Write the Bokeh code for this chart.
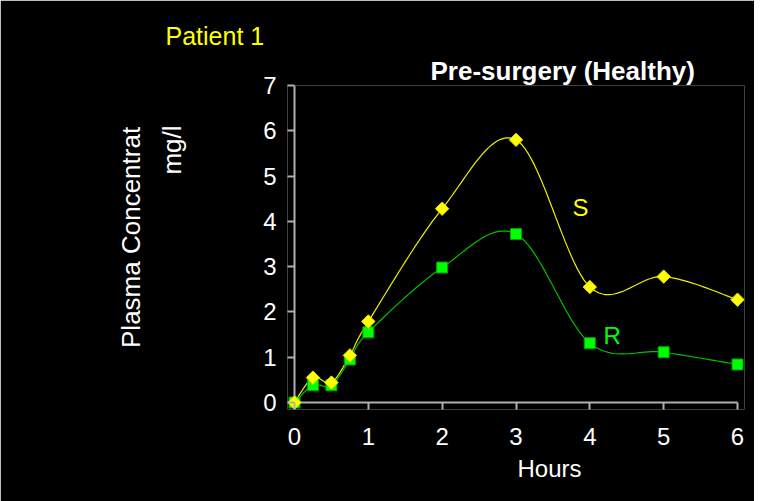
import numpy as np
from bokeh.plotting import figure
from bokeh.models import Range1d, Label, FixedTicker, Title
from bokeh.embed import file_html
from bokeh.resources import INLINE

hours = [0, 0.25, 0.5, 0.75, 1, 2, 3, 4, 5, 6]
s_values = [0.0, 0.55, 0.44, 1.04, 1.79, 4.28, 5.80, 2.55, 2.78, 2.27]
r_values = [0.0, 0.38, 0.38, 0.95, 1.55, 2.98, 3.72, 1.31, 1.11, 0.84]
x_ticks = [0, 1, 2, 3, 4, 5, 6]
y_ticks = [0, 1, 2, 3, 4, 5, 6, 7]

FONT = "Liberation Sans"
W, H = 754, 501
PAD = 7  # px between frame edge and the zero lines (tick length)


def smooth(xs, ys, n=24):
    # Catmull-Rom smoothing (like spreadsheet "smoothed line")
    P = np.column_stack([xs, ys]).astype(float)
    P = np.vstack([P[0], P, P[-1]])
    out = []
    for i in range(1, len(P) - 2):
        p0, p1, p2, p3 = P[i - 1], P[i], P[i + 1], P[i + 2]
        c1 = p1 + (p2 - p0) / 6.0
        c2 = p2 - (p3 - p1) / 6.0
        t = np.linspace(0, 1, n, endpoint=(i == len(P) - 3))[:, None]
        pts = ((1 - t) ** 3) * p1 + 3 * ((1 - t) ** 2) * t * c1 + 3 * (1 - t) * t ** 2 * c2 + t ** 3 * p2
        out.append(pts)
    a = np.vstack(out)
    return a[:, 0], a[:, 1]


# pixel positions of the zero / max lines
x0_px, x6_px = 294, 737
y0_px, y7_px = 402, 85
xs_per_px = (x_ticks[-1] - x_ticks[0]) / (x6_px - x0_px)
ys_per_px = (y_ticks[-1] - y_ticks[0]) / (y0_px - y7_px)

p = figure(width=W, height=H, output_backend="svg", toolbar_location=None, title=None,
           x_range=Range1d(x_ticks[0] - PAD * xs_per_px, x_ticks[-1] + PAD * xs_per_px),
           y_range=Range1d(y_ticks[0] - PAD * ys_per_px, y_ticks[-1]),
           min_border_left=x0_px - PAD, min_border_right=W - (x6_px + PAD),
           min_border_top=y7_px, min_border_bottom=H - (y0_px + PAD))
p.background_fill_color = "black"
p.border_fill_color = "black"
p.outline_line_color = None
p.xgrid.visible = False
p.ygrid.visible = False

AX = "#b0b0b0"
for ax in (p.xaxis[0], p.yaxis[0]):
    ax.axis_line_color = None
    ax.major_tick_line_color = AX
    ax.major_tick_line_width = 2
    ax.major_tick_out = 0
    ax.major_tick_in = PAD
    ax.minor_tick_line_color = None
    ax.major_label_text_color = "white"
    ax.major_label_text_font = FONT
    ax.major_label_text_font_size = "24px"
p.xaxis.ticker = FixedTicker(ticks=x_ticks)
p.yaxis.ticker = FixedTicker(ticks=y_ticks)
p.xaxis.major_label_standoff = 18
p.yaxis.major_label_standoff = 11

# axis lines through zero
p.line([x_ticks[0], x_ticks[-1]], [y_ticks[0], y_ticks[0]], line_color=AX, line_width=2)
p.line([x_ticks[0], x_ticks[0]], [y_ticks[0], y_ticks[-1]], line_color=AX, line_width=2)

sx, sy = smooth(hours, s_values)
rx, ry = smooth(hours, r_values)
p.line(sx, sy, line_color="#f0f000", line_width=1.2)
p.line(rx, ry, line_color="#00c000", line_width=1.2)
p.scatter(hours, r_values, marker="square", size=11, fill_color="#00ff00", line_color="#00a000", line_width=1)
p.scatter(hours, s_values, marker="square", angle=np.pi / 4, size=9.5, fill_color="#ffff00",
          line_color="#e0e000", line_width=1)


def lab(x, y, text, color, size):
    p.add_layout(Label(x=x, y=y, text=text, text_color=color, text_font=FONT,
                       text_font_size=size, text_baseline="alphabetic"))


lab(3.765, 4.31, "S", "#ffff00", "24px")
lab(4.185, 1.48, "R", "#00ff00", "24px")


def title(text, where, align, offset, standoff, color="white", style="normal", size="25px", lh=1.2):
    p.add_layout(Title(text=text, align=align, offset=offset, standoff=standoff,
                       text_color=color, text_font=FONT, text_font_size=size,
                       text_font_style=style, text_line_height=lh), where)


NBSP = "\u00a0"
title("Pre-surgery (Healthy)", "above", "left", 430 - (x0_px - PAD), 0, style="bold", size="26px")
title("Patient 1", "above", "left", 165 - (x0_px - PAD), 8, color="#ffff00")
title("Plasma Concentrat\n" + NBSP * 24 + "mg/l", "left", "right", 125 - y7_px, 148, size="26px", lh=1.35)
title("Hours", "below", "left", 517 - (x0_px - PAD), 11, size="24px")

open("out.html", "w").write(file_html(p, INLINE))
